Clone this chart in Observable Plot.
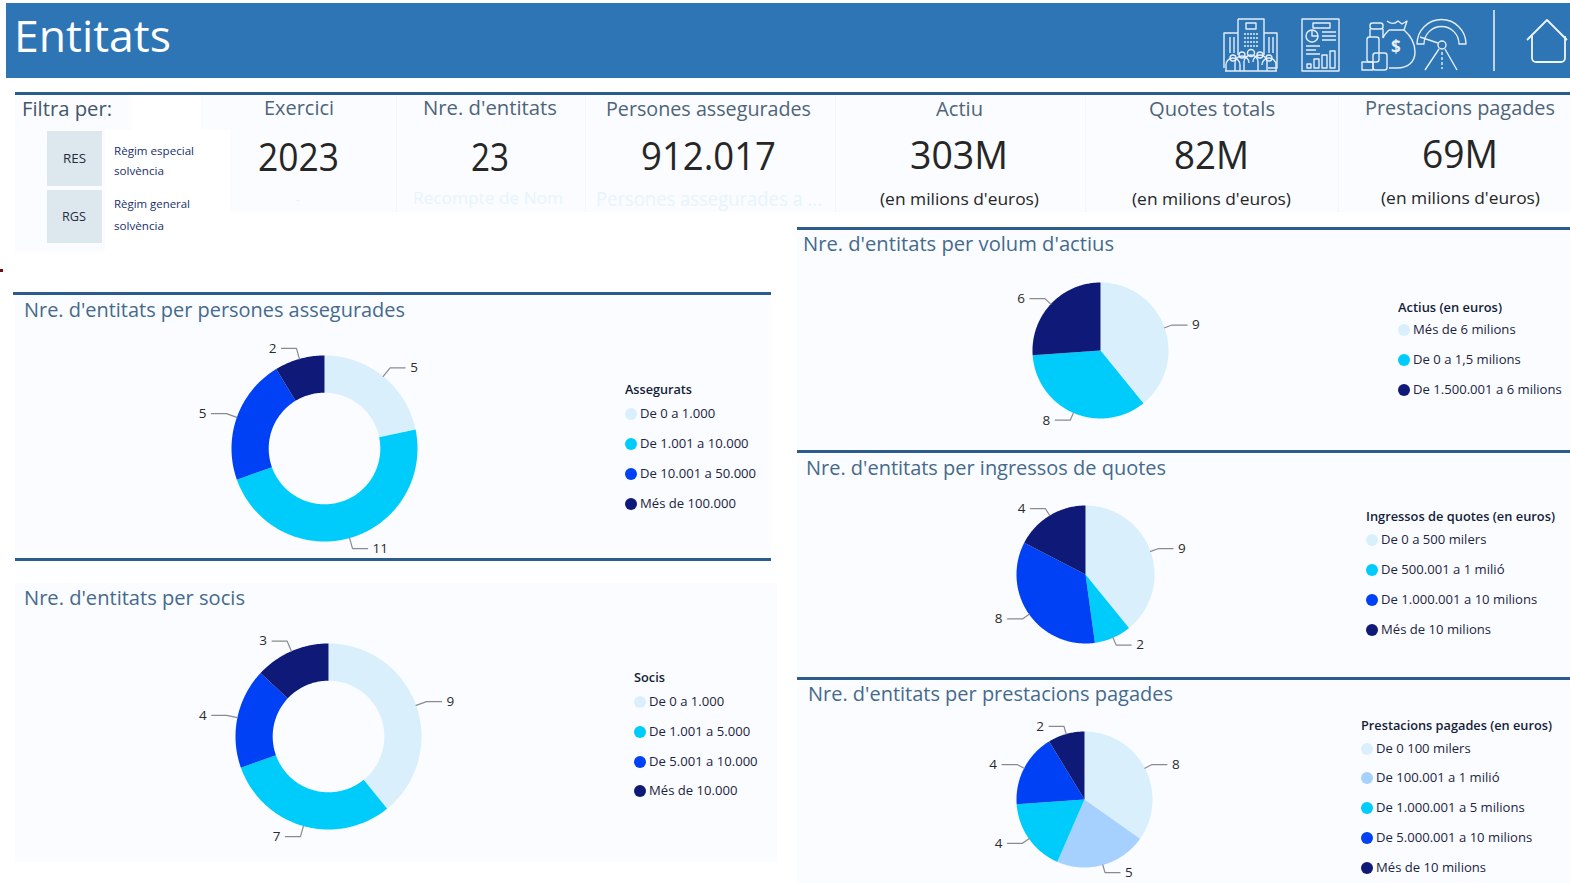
<!DOCTYPE html>
<html lang="ca">
<head>
<meta charset="utf-8">
<script src="https://cdn.jsdelivr.net/npm/d3@7"></script>
<script src="https://cdn.jsdelivr.net/npm/@observablehq/plot@0.6"></script>
<style>
html,body{margin:0;padding:0;background:#fff;width:1570px;height:883px;overflow:hidden;font-family:"Open Sans",sans-serif}
#page{position:relative;width:1570px;height:883px;overflow:hidden}
.box,.t,.dot,.pie{position:absolute}
.t{white-space:nowrap;line-height:1;transform-origin:0 50%}
.pie svg{display:block;background:transparent;overflow:visible}
</style>
</head>
<body>
<div id="page"></div>
<script>
// ---------- data ----------
const assegCategories = ["De 0 a 1.000","De 1.001 a 10.000","De 10.001 a 50.000","Més de 100.000"];
const assegValues = [5,11,5,2];
const sociCategories = ["De 0 a 1.000","De 1.001 a 5.000","De 5.001 a 10.000","Més de 10.000"];
const sociValues = [9,7,4,3];
const actiuCategories = ["Més de 6 milions","De 0 a 1,5 milions","De 1.500.001 a 6 milions"];
const actiuValues = [9,8,6];
const quotesCategories = ["De 0 a 500 milers","De 500.001 a 1 milió","De 1.000.001 a 10 milions","Més de 10 milions"];
const quotesValues = [9,2,8,4];
const prestCategories = ["De 0 100 milers","De 100.001 a 1 milió","De 1.000.001 a 5 milions","De 5.000.001 a 10 milions","Més de 10 milions"];
const prestValues = [8,5,4,4,2];
const PALE="#d9f0fc", SKY="#a6d1ff", CYAN="#00ccfb", BLUE="#0041f5", NAVY="#0f1a78";
const palette4 = [PALE,CYAN,BLUE,NAVY];
const palette3 = [PALE,CYAN,NAVY];
const palette5 = [PALE,SKY,CYAN,BLUE,NAVY];
const kpiTitles = ["Exercici","Nre. d'entitats","Persones assegurades","Actiu","Quotes totals","Prestacions pagades"];
const kpiValues = ["2023","23","912.017","303M","82M","69M"];

// ---------- helpers ----------
const page = document.getElementById("page");
function box(x,y,w,h,c){const d=document.createElement("div");d.className="box";
  d.style.cssText=`left:${x}px;top:${y}px;width:${w}px;height:${h}px;background:${c}`;page.append(d);return d;}
function text(s,x,y,size,color,o={}){
  const d=document.createElement("div");d.className="t";d.textContent=s;
  d.style.cssText=`font-size:${size}px;color:${color};left:${x}px;top:${y}px;font-weight:${o.weight||400};font-family:${o.font||'"Open Sans",sans-serif'}`;
  page.append(d);
  const a=d.getBoundingClientRect().width;
  const k=o.w?o.w/a:(o.k||1);
  const w=a*k;
  const left=o.center?x-w/2:x;
  d.style.left=left+"px";
  d.style.top=(y-size/2)+"px";
  d.style.transform=`scaleX(${k})`;
  return d;
}

const BG="#fafcff", RULE="#2c5c8c", HEAD="#2e75b6", TITLE="#456a8c", INK="#2b2b2b", LEG="#1c2440";

function pie({categories,values,colors,cx,cy,r,inner=0,elbow=11}){
  const half=r+62, u=half/r;
  const arcs=d3.pie().sort(null)(values);
  const pts=[], leaders=[], labels=[];
  arcs.forEach((a,i)=>{
    const c=categories[i];
    const n=Math.max(2,Math.ceil((a.endAngle-a.startAngle)*60));
    const ang=d3.range(n+1).map(j=>a.startAngle+(a.endAngle-a.startAngle)*j/n);
    ang.forEach(t=>pts.push({c,x:Math.sin(t),y:Math.cos(t)}));
    if(inner>0) ang.slice().reverse().forEach(t=>pts.push({c,x:inner*Math.sin(t),y:inner*Math.cos(t)}));
    else pts.push({c,x:0,y:0});
    const m=(a.startAngle+a.endAngle)/2, sx=Math.sin(m), cy_=Math.cos(m), side=sx>=0?1:-1;
    const e=1+elbow/r, run=15/r;
    leaders.push({c,x:sx,y:cy_},{c,x:e*sx,y:e*cy_},{c,x:e*sx+side*run,y:e*cy_});
    labels.push({v:a.value,x:e*sx+side*run,y:e*cy_,side});
  });
  const chart=Plot.plot({
    width:2*half,height:2*half,margin:0,
    x:{domain:[-u,u],axis:null},
    y:{domain:[-u,u],axis:null},
    color:{domain:categories,range:colors},
    style:{background:"transparent"},
    marks:[
      Plot.line(pts,{x:"x",y:"y",z:"c",fill:"c",curve:"linear"}),
      Plot.line(leaders,{x:"x",y:"y",z:"c",stroke:"#8a8a8a",strokeWidth:1.2,curve:"linear"}),
      Plot.text(labels.filter(d=>d.side>0),{x:"x",y:"y",text:"v",textAnchor:"start",dx:5,fontSize:13.5,fill:INK,fontFamily:"Open Sans"}),
      Plot.text(labels.filter(d=>d.side<0),{x:"x",y:"y",text:"v",textAnchor:"end",dx:-5,fontSize:13.5,fill:INK,fontFamily:"Open Sans"})
    ]
  });
  const w=document.createElement("div");w.className="pie";
  w.style.cssText=`left:${cx-half}px;top:${cy-half}px;width:${2*half}px;height:${2*half}px`;
  w.append(chart);page.append(w);
}
function legend({title,categories,colors,x,y,ys,tw}){
  text(title,x,y,12.5,"#141c38",{weight:600,w:tw});
  categories.forEach((c,i)=>{
    const d=document.createElement("div");d.className="dot";
    d.style.cssText=`left:${x}px;top:${ys[i]-6}px;width:12px;height:12px;border-radius:50%;background:${colors[i]}`;
    page.append(d);
    text(c,x+15,ys[i],13.5,LEG,{k:.97});
  });
}

// ---------- backgrounds ----------
box(6,3,1564,75,HEAD);
box(15,94,1555,118,BG);
box(15,94,116,158,BG);
box(131,94,70,36,"#fff");
box(105,130,125,122,"#fff");
[396,585,835,1085,1338].forEach(x=>box(x,94,1,118,"#f3f7fb"));
box(15,92,1555,3,RULE);
box(47,131,55,55,"#dce8ee");
box(47,190,55,53,"#dce8ee");
box(0,269,3,3,"#6b0f14");

box(15,295,756,263,BG);
box(13,292,758,3,RULE);
box(15,558,756,3,RULE);
box(15,561,762,16,"#fdfeff");
box(15,583,762,279,BG);
box(797,230,773,653,BG);
box(797,227,773,3,RULE);
box(797,450,773,3,RULE);
box(797,677,773,3,RULE);

// ---------- header ----------
text("Entitats",14,35,44,"#fff",{w:157});
const ic=document.createElementNS("http://www.w3.org/2000/svg","svg");
ic.setAttribute("width",370);ic.setAttribute("height",80);
ic.style.cssText="position:absolute;left:1200px;top:0";
ic.innerHTML=`<g fill="none" stroke="#e6eef6" stroke-width="1.4" stroke-linejoin="round">
<path d="M38 19h26v36M38 55V19M24 68V33h14M64 33h13v35H68"/><rect x="46" y="23" width="10" height="6"/>
<path d="M44 34h14M44 38h14M44 42h14M44 46h14" stroke-dasharray="2 1"/><path d="M30 37v16M34 37v16M69 37v16M73 37v16"/>
<circle cx="33" cy="58" r="3"/><circle cx="42" cy="55" r="3"/><circle cx="51" cy="53" r="3.5"/><circle cx="60" cy="55" r="3"/><circle cx="69" cy="58" r="3"/>
<path d="M26 71v-6a7 7 0 0 1 14 0v6M35 71v-8a7 7 0 0 1 14 0M44 71v-9a7 7 0 0 1 14 0v9M53 62a7 7 0 0 1 14 0v9M62 65a7 7 0 0 1 14 0v6M25 71h52"/>
<rect x="102" y="19" width="37" height="52"/><rect x="113" y="23" width="17" height="5"/><circle cx="112" cy="36" r="6"/><path d="M112 30v6h6M122 32h14M122 36h14M122 40h14M106 46h14M106 50h10M106 54h14"/>
<path d="M107 68v-4h4v4zM114 68v-9h5v9zM122 68v-13h5v13zM130 68v-17h5v17z"/>
<path d="M187 21c4 3 8 3 11 0l4 3 5-3-3 9c7 6 11 14 11 22 0 10-7 16-18 16h-8"/><path d="M189 30h15M189 30c-3 3-5 5-6 8"/>
<text x="191" y="53" fill="#e6eef6" stroke="none" font-size="17" font-weight="700" font-family="Open Sans">$</text>
<rect x="170" y="23" width="13" height="6" rx="2.5"/><path d="M170 29v8M183 29v9"/><rect x="167" y="37" width="12" height="25" rx="2.5"/><rect x="173" y="53" width="14" height="17" rx="2.5"/><rect x="162" y="62" width="11" height="8"/>
<path d="M217 44A24.500 24.500 0 0 1 266 44L259 44A17.500 17.500 0 0 0 224 44Z"/><path d="M220 37l18 6"/><circle cx="242" cy="45" r="4"/><path d="M239 49l-14 21M245 49l12 21"/><path d="M242 52v17" stroke-dasharray="3 2"/></g>
<path d="M294 10v61" stroke="#f0f5fa" stroke-width="1.5"/>
<g fill="none" stroke="#f0f5fa" stroke-width="1.8" stroke-linejoin="round"><path d="M327 40l20-20 20 20"/><path d="M332 36v22a4 4 0 0 0 4 4h25a4 4 0 0 0 4-4v-22"/></g>`;
page.append(ic);

// ---------- KPI row ----------
text("Filtra per:",21.5,109,20,"#44566a",{w:90});
const cols=[298.5,489.5,708,959,1211.5,1460], ty=[108,108,109,109,109,108], vy=[156,156,155,154,154,152.5];
const tw=[70,134,205,47,126,190], vw=[81,38,135,98,75,76];
kpiTitles.forEach((s,i)=>text(s,cols[i],ty[i],20,"#4f6478",{center:true,w:tw[i]}));
kpiValues.forEach((s,i)=>text(s,cols[i],vy[i],38,"#262626",{center:true,w:vw[i]}));
[[959,198],[1211.5,198],[1460,197]].forEach(([x,y])=>text("(en milions d'euros)",x,y,17,"#262626",{center:true,w:159}));
text("-",298,198,17,"#eaf3fb",{center:true});
text("Recompte de Nom",487.5,197,17,"#e8f4fd",{center:true,w:150});
text("Persones assegurades a ...",709,199,20,"#e8f4fd",{center:true,w:226});
text("RES",74,159,12.5,"#262c3c",{center:true,w:23});
text("RGS",74,217,12.5,"#262c3c",{center:true,w:24});
text("Règim especial",114,151,11.5,"#17306a",{w:80});
text("solvència",114,171,11.5,"#17306a",{w:50});
text("Règim general",114,204,11.5,"#17306a",{w:76});
text("solvència",114,226,11.5,"#17306a",{w:50});

// ---------- panels ----------
text("Nre. d'entitats per persones assegurades",24,310,20,TITLE,{w:381});
text("Nre. d'entitats per socis",24,598,20,TITLE,{w:221});
text("Nre. d'entitats per volum d'actius",803,244,20,TITLE,{w:311});
text("Nre. d'entitats per ingressos de quotes",806,468,20,TITLE,{w:360});
text("Nre. d'entitats per prestacions pagades",808,694,20,TITLE,{w:365});

pie({categories:assegCategories,values:assegValues,colors:palette4,cx:323.5,cy:448,r:93,inner:.6});
pie({categories:sociCategories,values:sociValues,colors:palette4,cx:328,cy:736,r:93,inner:.6});
pie({categories:actiuCategories,values:actiuValues,colors:palette3,cx:1100,cy:349.5,r:68,elbow:8});
pie({categories:quotesCategories,values:quotesValues,colors:palette4,cx:1085,cy:574,r:69,elbow:8});
pie({categories:prestCategories,values:prestValues,colors:palette5,cx:1084,cy:798.5,r:68,elbow:8});

legend({title:"Assegurats",categories:assegCategories,colors:palette4,x:625,y:390,ys:[413.500,443.500,473.500,503.500],tw:67});
legend({title:"Socis",categories:sociCategories,colors:palette4,x:634,y:678,ys:[701.500,731.500,761.500,791],tw:31});
legend({title:"Actius (en euros)",categories:actiuCategories,colors:palette3,x:1398,y:308,ys:[330,360,390],tw:104});
legend({title:"Ingressos de quotes (en euros)",categories:quotesCategories,colors:palette4,x:1366,y:517,ys:[540,570,600,630],tw:189});
legend({title:"Prestacions pagades (en euros)",categories:prestCategories,colors:palette5,x:1361,y:726,ys:[749,778,808,838,868],tw:191});
</script>
</body>
</html>
